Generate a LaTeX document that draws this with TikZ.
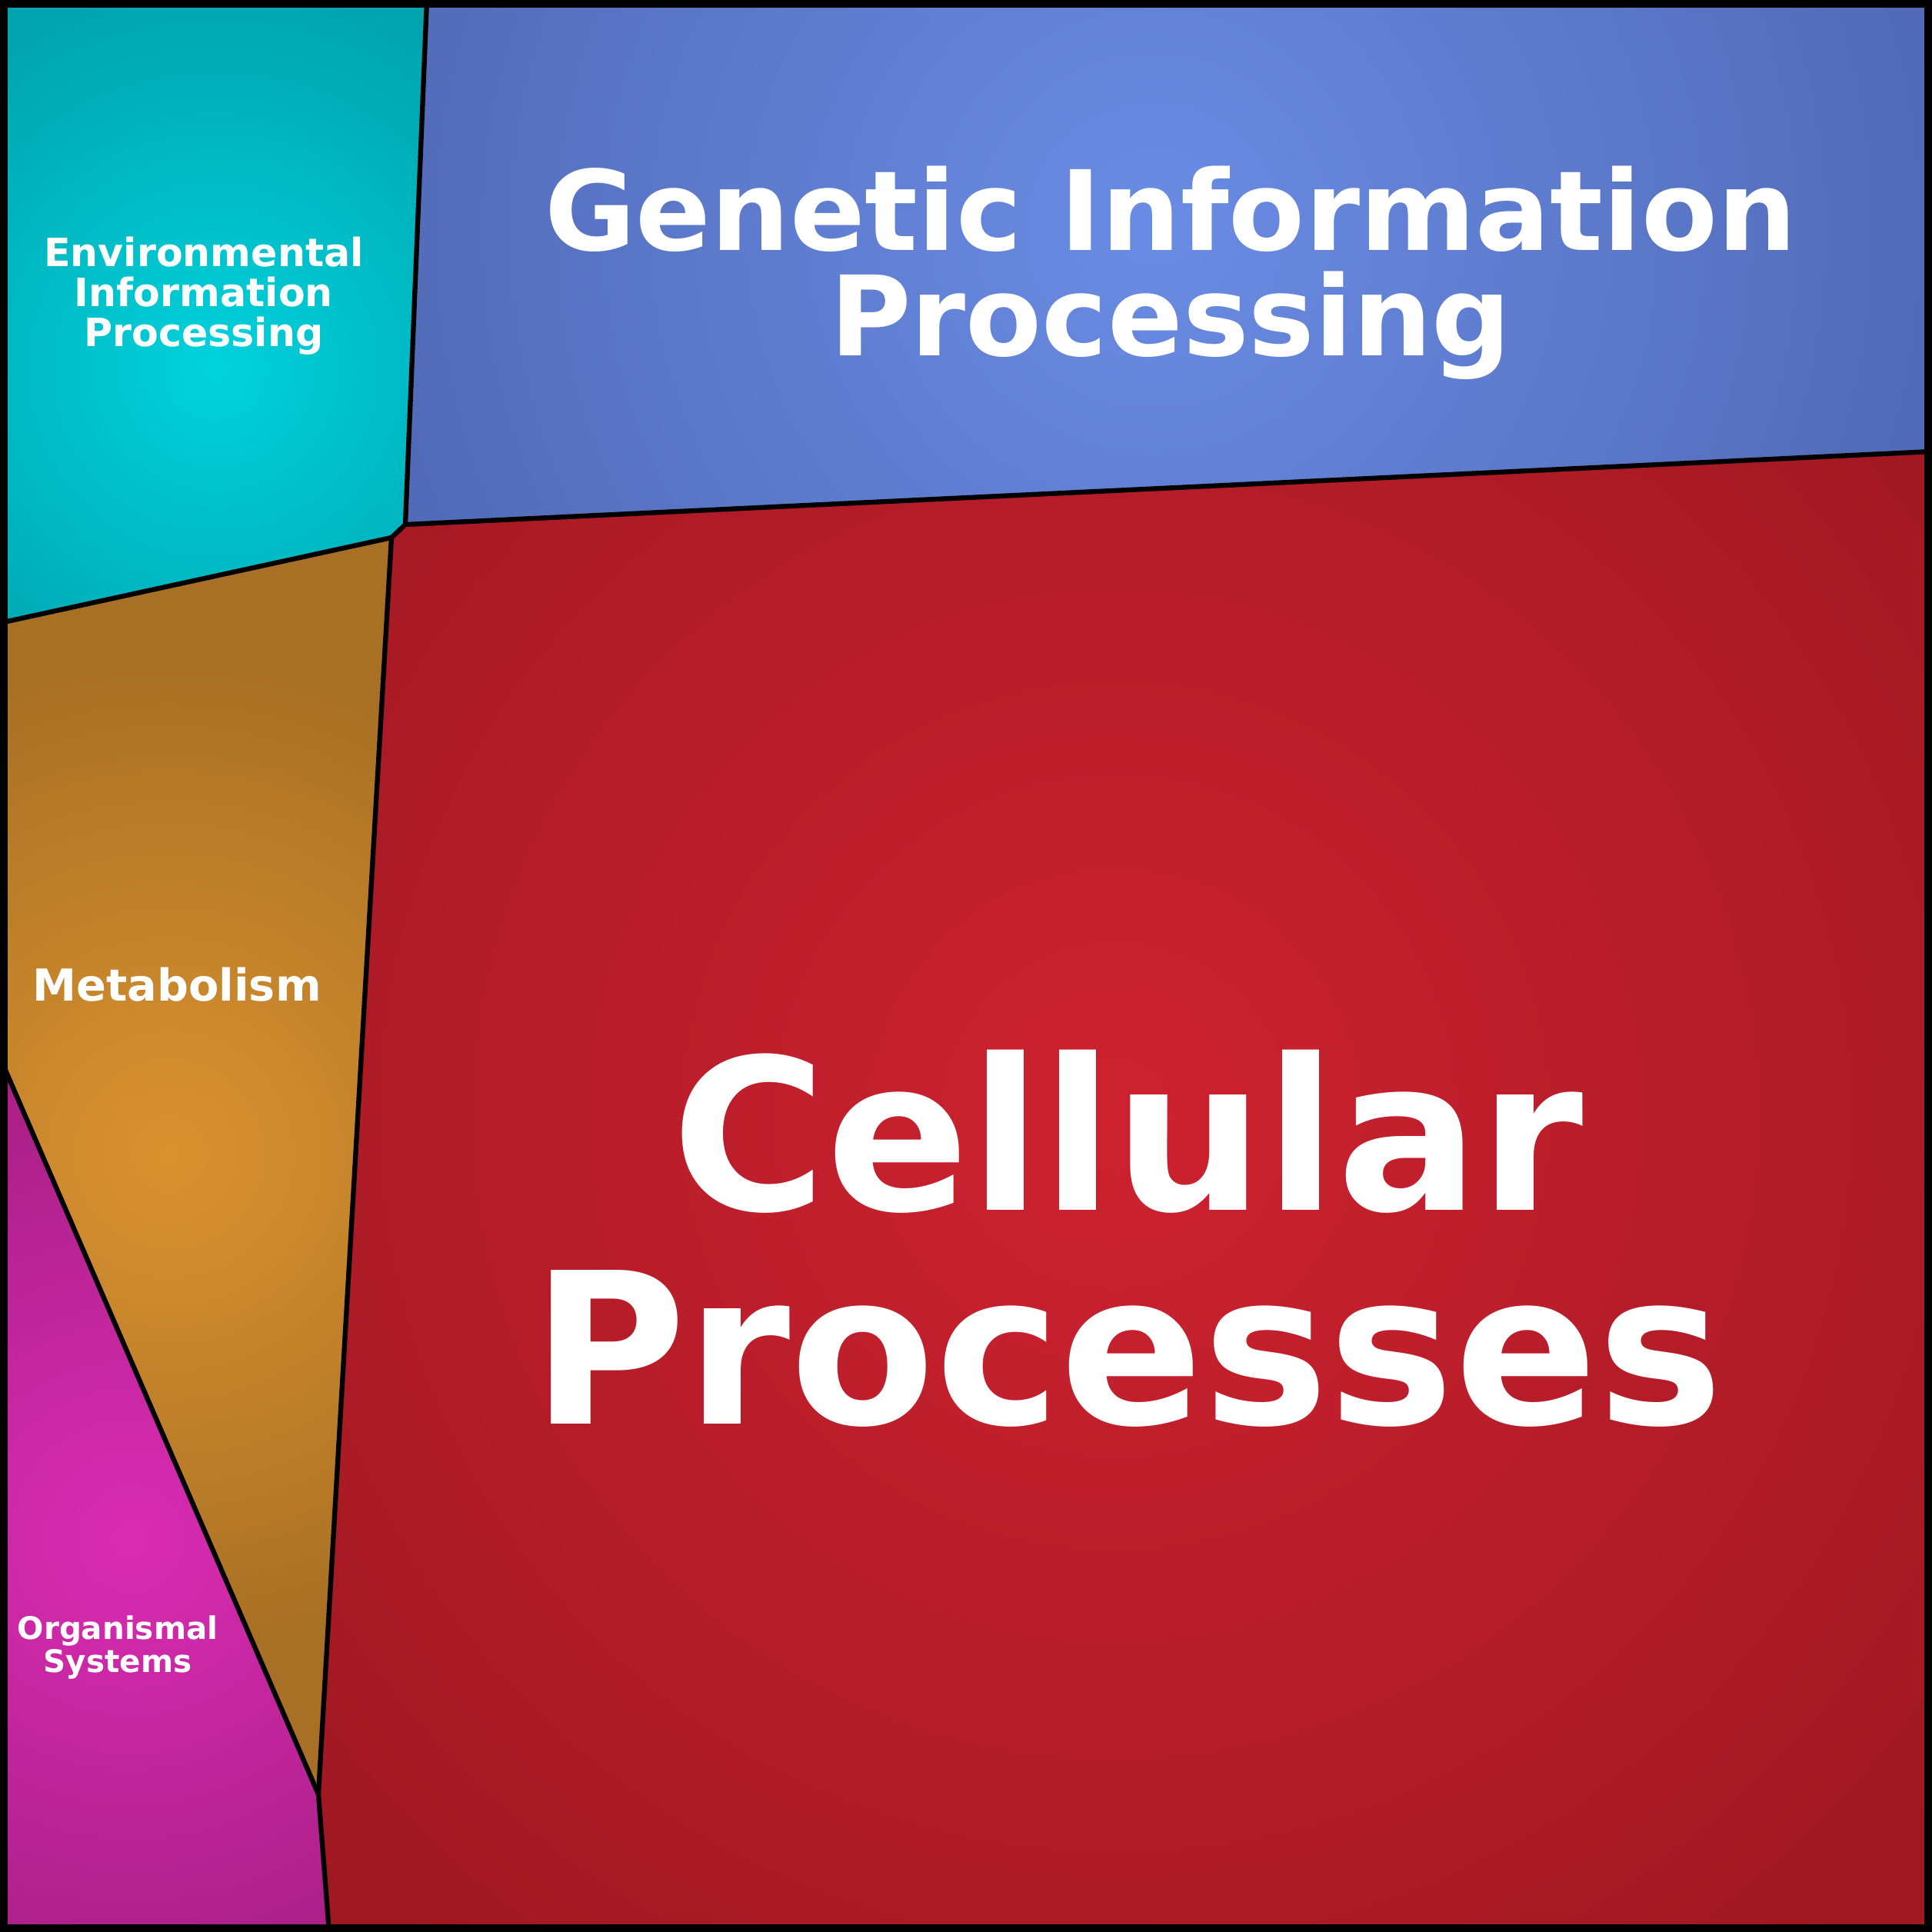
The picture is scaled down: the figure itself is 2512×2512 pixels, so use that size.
\documentclass[tikz,border=0pt]{standalone}
\usepackage{fontspec}
\setmainfont{DejaVu Sans}
\begin{document}
\begin{tikzpicture}[x=0.01cm,y=-0.01cm,
  lab/.style={align=center,text=white,inner sep=0pt},
  edge/.style={line width=1.8pt,line join=round}]
\useasboundingbox (0,0) rectangle (2512,2512);
\coordinate (a) at (555,0); \coordinate (b) at (527,682); \coordinate (c) at (509,699);
\coordinate (d) at (0,810); \coordinate (e) at (2512,587); \coordinate (f) at (0,1375);
\coordinate (g) at (414,2333); \coordinate (h) at (428,2512);
\definecolor{ei}{HTML}{00D2DC}\definecolor{eo}{HTML}{00A4AE}
\definecolor{gi}{HTML}{6A8CE4}\definecolor{go}{HTML}{5068B4}
\definecolor{mi}{HTML}{DA9230}\definecolor{mo}{HTML}{A87024}
\definecolor{oi}{HTML}{DA2CB4}\definecolor{oo}{HTML}{AC2088}
\definecolor{ci}{HTML}{CE2230}\definecolor{co}{HTML}{A01822}
\begin{scope}\clip (0,0)--(a)--(b)--(c)--(d)--cycle; \fill[eo] (0,0) rectangle (2512,2512); \shade[inner color=ei,outer color=eo] (280,480) circle (500); \end{scope}
\begin{scope}\clip (a)--(2512,0)--(e)--(b)--cycle; \fill[go] (0,0) rectangle (2512,2512); \shade[inner color=gi,outer color=go] (1500,300) circle (1100); \end{scope}
\begin{scope}\clip (d)--(c)--(g)--(f)--cycle; \fill[mo] (0,0) rectangle (2512,2512); \shade[inner color=mi,outer color=mo] (220,1500) circle (650); \end{scope}
\begin{scope}\clip (f)--(g)--(h)--(0,2512)--cycle; \fill[oo] (0,0) rectangle (2512,2512); \shade[inner color=oi,outer color=oo] (170,2000) circle (550); \end{scope}
\begin{scope}\clip (b)--(e)--(2512,2512)--(h)--(g)--(c)--cycle; \fill[co] (0,0) rectangle (2512,2512); \shade[inner color=ci,outer color=co] (1450,1450) circle (1400); \end{scope}
\draw[edge] (a)--(b)--(c)--(d); \draw[edge] (b)--(e); \draw[edge] (c)--(g)--(h); \draw[edge] (f)--(g);
\draw[line width=2.8pt] (5,5) rectangle (2507,2507);
\node[lab,font=\bfseries\fontsize{14.4}{14.8}\selectfont] (env) at (265,385) {Environmental\\Information\\Processing};
\node[lab,font=\bfseries\fontsize{41}{39}\selectfont] (gen) at (1522,355) {Genetic Information\\Processing};
\node[lab,font=\bfseries\fontsize{16.3}{16}\selectfont] (met) at (230,1280) {Metabolism};
\node[lab,font=\bfseries\fontsize{11.5}{10.4}\selectfont] (org) at (153,2142) {Organismal\\Systems};
\node[lab,font=\bfseries\fontsize{78}{79}\selectfont] (cel) at (1466,1610) {Cellular\\Processes};
\end{tikzpicture}
\end{document}
